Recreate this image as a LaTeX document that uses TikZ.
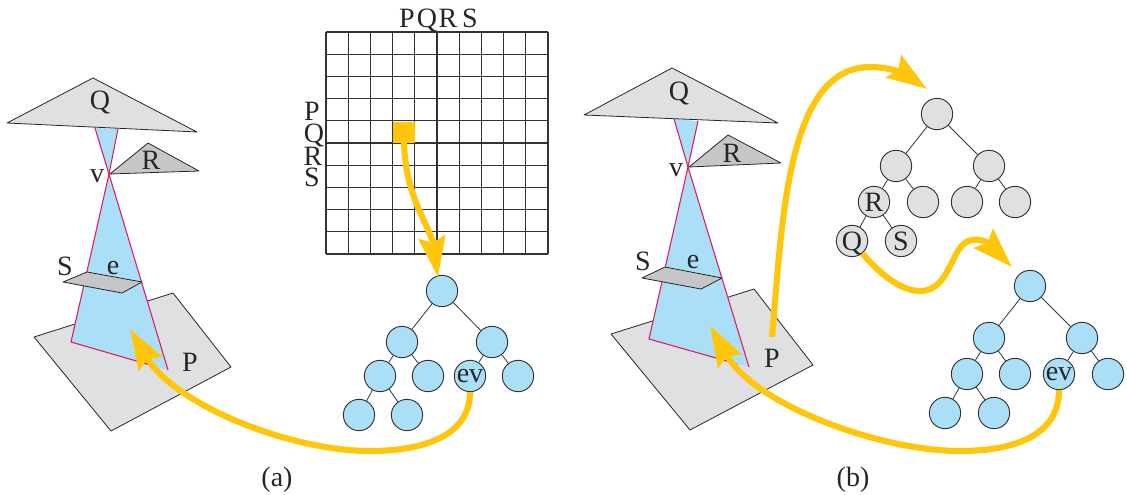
\documentclass[tikz,border=0pt]{standalone}
\usepackage{fontspec}
\setmainfont{Liberation Serif}
\usetikzlibrary{arrows.meta}
\definecolor{coneblue}{HTML}{ABDFF8}
\definecolor{lightgr}{HTML}{DFE0E2}
\definecolor{darkgr}{HTML}{C5C6C8}
\definecolor{conered}{HTML}{E5185F}
\definecolor{pathyellow}{HTML}{FFC60B}
\begin{document}
\begin{tikzpicture}[x=0.75pt, y=-0.75pt,
    every node/.style={font=\fontsize{21}{21}\selectfont, text=black!85, inner sep=0pt},
    qlabel/.style={text depth=0pt},
    blueball/.style={draw=black!80, fill=coneblue, circle, line width=0.7pt, minimum size=23.5pt, inner sep=0pt},
    grayball/.style={draw=black!80, fill=lightgr, circle, line width=0.7pt, minimum size=23.5pt, inner sep=0pt},
    face/.style={draw=black!85, line width=0.6pt, line join=round},
    redline/.style={draw=conered, line width=0.8pt},
    edge/.style={draw=black!80, line width=0.6pt},
    yellowpath/.style={draw=pathyellow, line width=4.6pt, -{Stealth[length=30pt, width=20pt, inset=4pt]}}
    ]
    \useasboundingbox (0,0) rectangle (1127,495);
    % left scene
    \coordinate(V) at (109,174);
    \path[face, fill = lightgr] (34,337) -- (173,293) -- (231,367) -- (111,431) -- cycle;
    \path[fill = coneblue] (V) -- (95,128) -- (118,129) -- cycle;
    \path[fill = coneblue] (V) -- (71,342) -- (157,367) -- (168,370) -- cycle;
    \path[redline] (95,128) -- (V) -- (118,129);
    \path[redline] (V) -- (71,342) -- (157,367);
    \path[redline] (V) -- (168,370);
    \path[face, fill = darkgr] (63,282) -- (87,272) -- (142,282) -- (122,293) -- cycle;
    \path[face, fill = lightgr] (93,78) -- (7,123) -- (197,132) -- cycle;
    \path[face, fill = darkgr] (110,174) -- (148,143) -- (199,171) -- cycle;
    \node[qlabel] (labelQa) at (100,100) {Q};
    \node (labelRa) at (151,160) {R};
    \node (labelva) at (97,176) {v};
    \node (labelSa) at (65,266) {S};
    \node (labelea) at (113,268) {e};
    \node (labelPa) at (190,362) {P};
    \node (capa) at (277,480) {(a)};
    % matrix
    \foreach \n in {0,...,10}{
        \path[edge, line width=0.8pt] ({326+22.2*\n},32) -- ({326+22.2*\n},254);
        \path[edge, line width=0.8pt] (326,{32+22.2*\n}) -- (548,{32+22.2*\n});
    }
    \path[fill = pathyellow] (393,122) rectangle (415,143);
    \node (topP) at (407,18) {P};
    \node[qlabel] (topQ) at (427,18) {Q};
    \node (topR) at (448,18) {R};
    \node (topS) at (470,18) {S};
    \node (sideP) at (312,111) {P};
    \node[qlabel] (sideQ) at (314,133) {Q};
    \node (sideR) at (313,156) {R};
    \node (sideS) at (312,177) {S};
    % first blue tree
    \node[blueball] (a0) at (442,291) {};
    \node[blueball] (a1) at (402,342) {};
    \node[blueball] (a2) at (492,342) {};
    \node[blueball] (a3) at (380,376) {};
    \node[blueball] (a4) at (428,376) {};
    \node[blueball] (a5) at (470,376) {ev};
    \node[blueball] (a6) at (518,376) {};
    \node[blueball] (a7) at (359,415) {};
    \node[blueball] (a8) at (407,415) {};
    \path[edge] (a0) -- (a1);
    \path[edge] (a0) -- (a2);
    \path[edge] (a1) -- (a3);
    \path[edge] (a1) -- (a4);
    \path[edge] (a2) -- (a5);
    \path[edge] (a2) -- (a6);
    \path[edge] (a3) -- (a7);
    \path[edge] (a3) -- (a8);
    % right scene
    \coordinate(W) at (688,167);
    \path[face, fill = lightgr] (611,334) -- (754,289) -- (813,365) -- (690,430) -- cycle;
    \path[fill = coneblue] (W) -- (674,119) -- (698,121) -- cycle;
    \path[fill = coneblue] (W) -- (649,339) -- (737,364) -- (749,367) -- cycle;
    \path[redline] (674,119) -- (W) -- (698,121);
    \path[redline] (W) -- (649,339) -- (737,364);
    \path[redline] (W) -- (749,367);
    \path[face, fill = darkgr] (642,278) -- (665,267) -- (722,278) -- (701,289) -- cycle;
    \path[face, fill = lightgr] (672,68) -- (584,115) -- (778,123) -- cycle;
    \path[face, fill = darkgr] (689,167) -- (728,135) -- (781,163) -- cycle;
    \node[qlabel] (labelQb) at (679,91) {Q};
    \node (labelRb) at (732,153) {R};
    \node (labelvb) at (676,170) {v};
    \node (labelSb) at (643,261) {S};
    \node (labeleb) at (693,262) {e};
    \node (labelPb) at (772,358) {P};
    \node (capb) at (853,480) {(b)};
    % gray tree
    \node[grayball] (g0) at (937,114) {};
    \node[grayball] (g1) at (896,166) {};
    \node[grayball] (g2) at (989,166) {};
    \node[grayball] (g3) at (874,202) {R};
    \node[grayball] (g4) at (923,202) {};
    \node[grayball] (g5) at (967,202) {};
    \node[grayball] (g6) at (1015,202) {};
    \node[grayball, qlabel] (g7) at (852,241) {Q};
    \node[grayball] (g8) at (901,241) {S};
    \path[edge] (g0) -- (g1);
    \path[edge] (g0) -- (g2);
    \path[edge] (g1) -- (g3);
    \path[edge] (g1) -- (g4);
    \path[edge] (g2) -- (g5);
    \path[edge] (g2) -- (g6);
    \path[edge] (g3) -- (g7);
    \path[edge] (g3) -- (g8);
    % second blue tree
    \node[blueball] (b0) at (1030,286) {};
    \node[blueball] (b1) at (989,338) {};
    \node[blueball] (b2) at (1082,338) {};
    \node[blueball] (b3) at (967,374) {};
    \node[blueball] (b4) at (1015,374) {};
    \node[blueball] (b5) at (1059,374) {ev};
    \node[blueball] (b6) at (1108,374) {};
    \node[blueball] (b7) at (945,413) {};
    \node[blueball] (b8) at (994,413) {};
    \path[edge] (b0) -- (b1);
    \path[edge] (b0) -- (b2);
    \path[edge] (b1) -- (b3);
    \path[edge] (b1) -- (b4);
    \path[edge] (b2) -- (b5);
    \path[edge] (b2) -- (b6);
    \path[edge] (b3) -- (b7);
    \path[edge] (b3) -- (b8);
    % yellow paths
    \coordinate(cell) at (404,143);
    \coordinate(tipA) at (130,329);
    \coordinate(tipB) at (710,326);
    \coordinate(tipC) at (927,89);
    \coordinate(tipD) at (1012,267);
    \coordinate(tipE) at (438,277);
    \coordinate(startP) at (772,337);
    \path[yellowpath] (cell) .. controls (406,200) and (430,225) .. (tipE);
    \path[yellowpath] (a5.south) .. controls (470,435) and (425,451) .. (370,451) .. controls (290,451) and (175,405) .. (tipA);
    \path[yellowpath] (b5.south) .. controls (1059,435) and (1015,451) .. (960,451) .. controls (880,451) and (755,405) .. (tipB);
    \path[yellowpath] (startP) .. controls (782,230) and (785,67) .. (870,67) .. controls (890,67) and (905,74) .. (tipC);
    \path[yellowpath] (g7.-50) .. controls (885,280) and (905,291) .. (920,291) .. controls (952,291) and (950,243) .. (972,240) .. controls (980,239) and (986,241) .. (tipD);
\end{tikzpicture}
\end{document}
